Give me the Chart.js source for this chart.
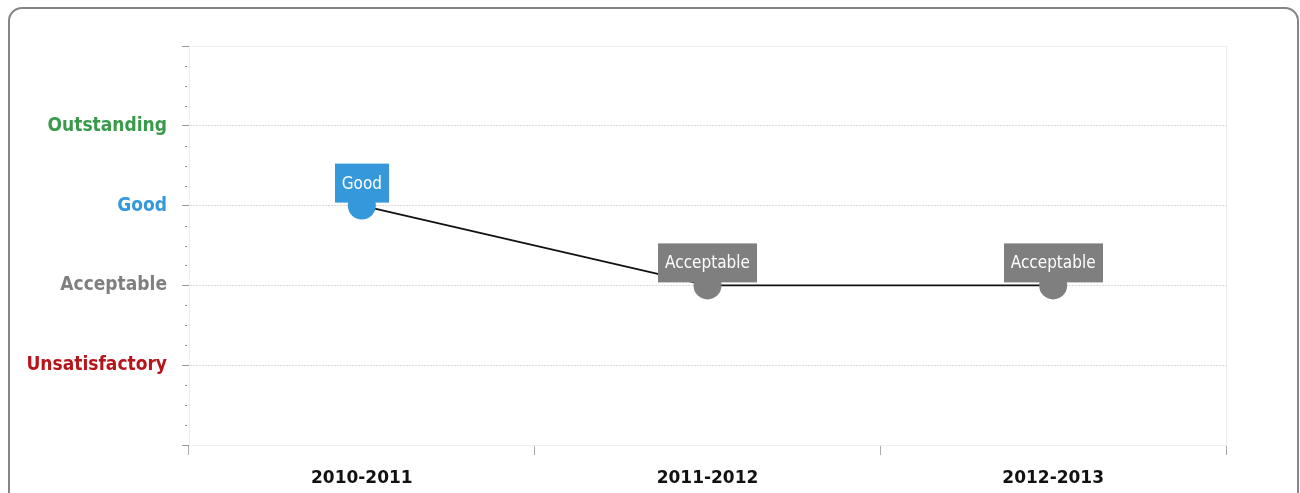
<!DOCTYPE html>
<html>
<head>
<meta charset="utf-8">
<script src="https://cdn.jsdelivr.net/npm/chart.js@4"></script>
<style>
  body { margin: 0; background: #fff; }
  #wrap { position: relative; width: 1300px; height: 493px; overflow: hidden; }
  #frame { position: absolute; left: 8px; top: 7px; width: 1291px; height: 520px;
           border: 2px solid #858585; border-radius: 14px; box-sizing: border-box; }
  canvas { position: absolute; left: 0; top: 0; }
</style>
</head>
<body>
<div id="wrap">
  <div id="frame"></div>
  <canvas id="rating" width="1300" height="493"></canvas>
</div>
<script>
const years = ['2010-2011', '2011-2012', '2012-2013'];
const ratings = [3, 2, 2];
const levels = ['', 'Unsatisfactory', 'Acceptable', 'Good', 'Outstanding', ''];
const levelColors = ['#000', '#b5151b', '#7f7f7f', '#3498db', '#3a9a4c', '#000'];
const boxColors = ['#000', '#b5151b', '#7f7f7f', '#3498db', '#3a9a4c', '#000'];

const condensed = "'DejaVu Sans Condensed', 'DejaVu Sans', sans-serif";

// frame, minor ticks and value boxes
const extras = {
    id: 'extras',
    beforeDatasetsDraw(chart) {
        const c = chart.ctx, a = chart.chartArea, y = chart.scales.y;
        c.save();
        c.strokeStyle = '#eeeeee';
        c.lineWidth = 1;
        c.strokeRect(a.left + 0.5, a.top + 0.5, a.right - a.left, a.bottom - a.top);
        c.strokeStyle = '#8c8c8c';
        for (let k = 0; k <= 20; k++) {
            if (k % 4 === 0) continue;
            const py = Math.round(y.getPixelForValue(k / 4)) + 0.5;
            c.beginPath();
            c.moveTo(a.left - 4, py);
            c.lineTo(a.left - 2, py);
            c.stroke();
        }
        c.restore();
    },
    afterDatasetsDraw(chart) {
        const c = chart.ctx;
        const meta = chart.getDatasetMeta(0);
        c.save();
        c.font = '17px ' + condensed;
        c.textAlign = 'center';
        c.textBaseline = 'middle';
        meta.data.forEach((pt, i) => {
            const txt = levels[ratings[i]];
            const w = c.measureText(txt).width + 14;
            const h = 39;
            const bottom = pt.y - 3;
            c.fillStyle = boxColors[ratings[i]];
            c.fillRect(Math.round(pt.x - w / 2), bottom - h, Math.round(w), h);
            c.fillStyle = '#fff';
            c.fillText(txt, pt.x, bottom - h / 2 + 1);
        });
        c.restore();
    }
};

new Chart(document.getElementById('rating'), {
    type: 'line',
    data: {
        labels: years,
        datasets: [{
            data: ratings,
            borderColor: '#111',
            borderWidth: 1.7,
            pointRadius: 14,
            pointHoverRadius: 14,
            pointBorderWidth: 0,
            pointBackgroundColor: ratings.map(r => boxColors[r]),
            tension: 0
        }]
    },
    options: {
        responsive: false,
        animation: false,
        events: [],
        layout: { padding: { left: 0, right: 74, top: 46, bottom: 0 } },
        plugins: { legend: { display: false }, tooltip: { enabled: false } },
        scales: {
            x: {
                offset: true,
                grid: {
                    offset: true,
                    drawOnChartArea: false,
                    tickLength: 10,
                    tickColor: '#aaa'
                },
                border: { color: '#eeeeee' },
                ticks: {
                    color: '#111',
                    padding: 13,
                    font: { family: "'DejaVu Sans', sans-serif", size: 17, weight: 'bold' }
                },
                afterFit(s) { s.height = 48; }
            },
            y: {
                min: 0,
                max: 5,
                ticks: {
                    stepSize: 1,
                    padding: 15,
                    color: ctx => levelColors[ctx.tick.value] || '#000',
                    callback: v => levels[v],
                    font: { family: condensed, size: 19, weight: 'bold' }
                },
                grid: {
                    tickLength: 7,
                    tickColor: '#999',
                    color: ctx => (ctx.tick && ctx.tick.value > 0 && ctx.tick.value < 5) ? '#d9d9d9' : 'rgba(0,0,0,0)'
                },
                border: { color: '#eeeeee', dash: [2, 1] },
                afterFit(s) { s.width = 189; }
            }
        }
    },
    plugins: [extras]
});
</script>
</body>
</html>
